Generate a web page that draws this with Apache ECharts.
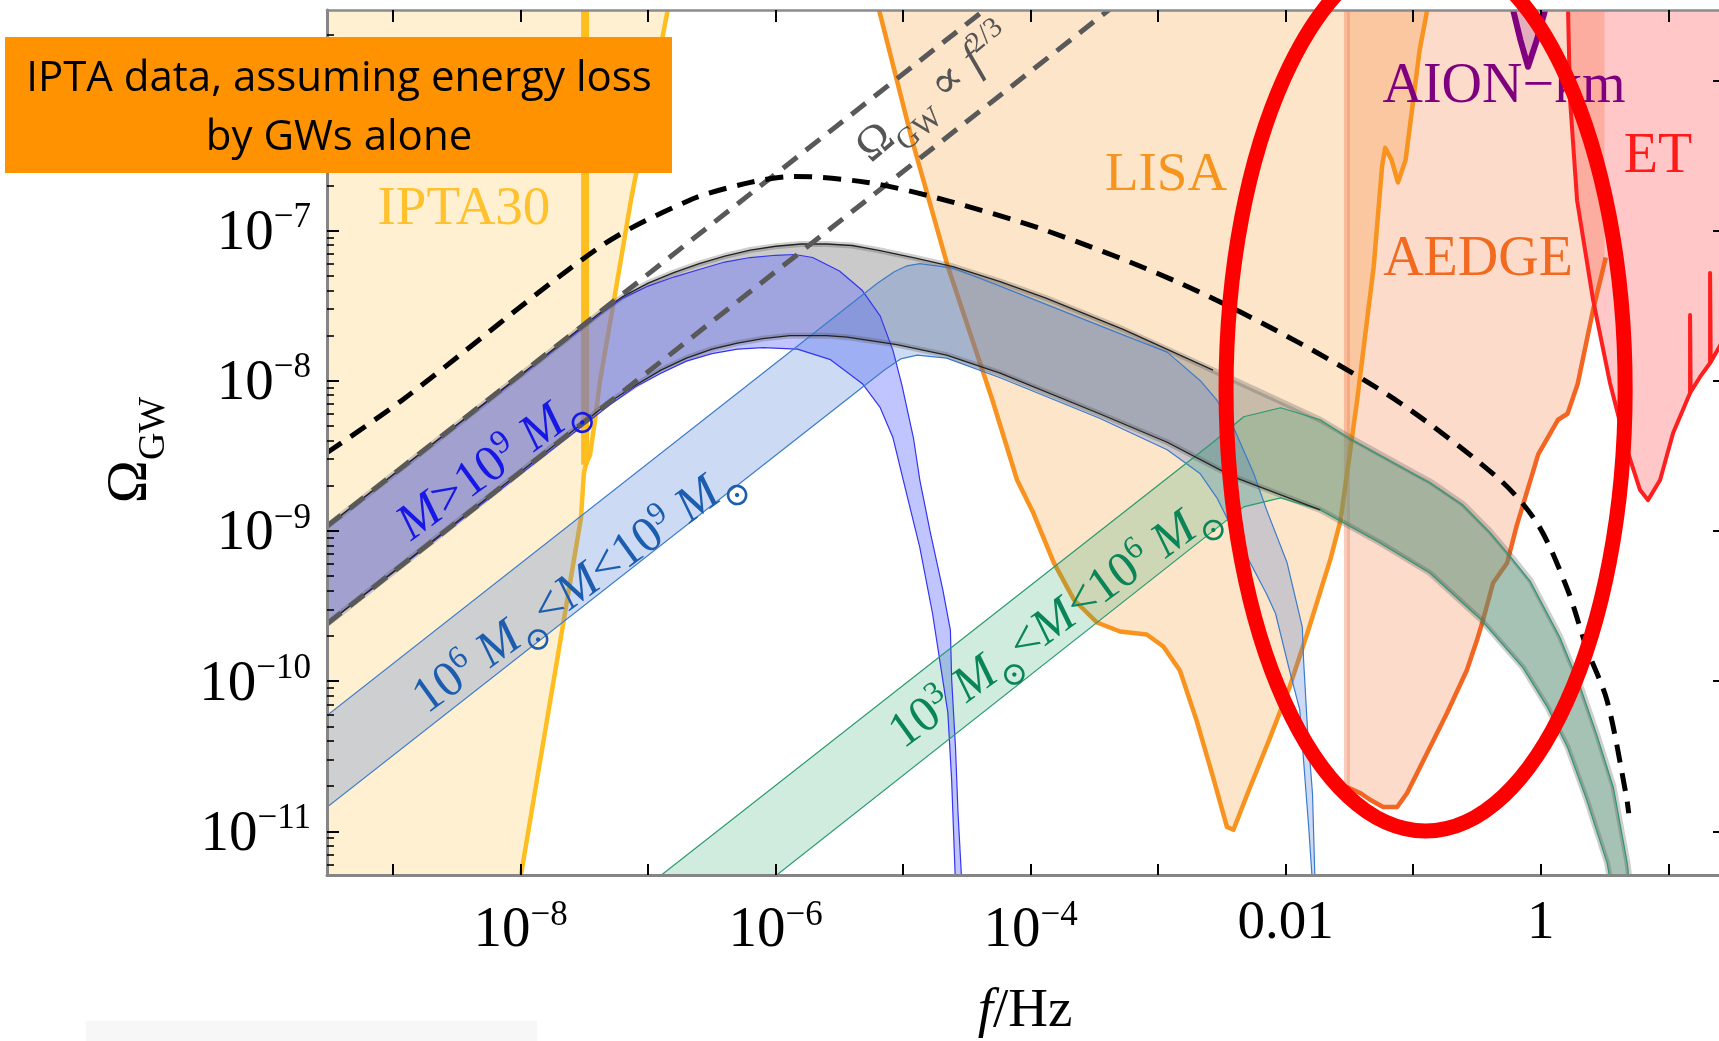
<!DOCTYPE html>
<html><head><meta charset="utf-8">
<script src="https://cdn.jsdelivr.net/npm/echarts@6/dist/echarts.min.js"></script>
<style>html,body{margin:0;padding:0;background:#fff;}#c{width:1719px;height:1041px;}</style>
</head><body><div id="c"></div>
<script>
// ---------- DATA (x = log10 f/Hz, y = log10 Omega_GW) ----------
const xRange = [-9.519, 1.398];
const yRange = [-11.291, -5.532];
const xTickValues = [-9,-8,-7,-6,-5,-4,-3,-2,-1,0,1];
const xLabelValues = [-8,-6,-4,-2,0];
const yTickValues = [-11,-10,-9,-8,-7,-6];
const yLabelValues = [-11,-10,-9,-8,-7,-6];

const iptaRight = [[-6.83,-5.45],[-6.845,-5.525],[-7.135,-6.797],[-7.268,-7.463],[-7.378,-8.002],[-7.417,-8.262],[-7.456,-8.495],[-7.488,-8.555]];
const iptaLeft = [[-7.488,-8.555],[-7.505,-8.62],[-7.527,-8.914],[-7.998,-11.291],[-8.01,-11.37]];
const iptaVertical = [[-7.495,-8.56],[-7.495,-5.4]];

const lisaCurve = [[-5.21,-5.45],[-5.19,-5.53],[-4.93,-6.40],[-4.65,-7.24],[-4.30,-8.13],[-4.107,-8.661],[-3.98,-8.88],[-3.82,-9.21],[-3.66,-9.46],[-3.48,-9.61],[-3.30,-9.67],[-3.09,-9.69],[-2.96,-9.77],[-2.83,-9.93],[-2.70,-10.26],[-2.57,-10.64],[-2.461,-10.971],[-2.41,-10.99],[-2.30,-10.75],[-2.12,-10.37],[-1.97,-10.04],[-1.83,-9.68],[-1.65,-9.19],[-1.57,-8.93],[-1.44,-8.13],[-1.31,-7.24],[-1.245,-6.577],[-1.22,-6.45],[-1.17,-6.53],[-1.12,-6.68],[-1.06,-6.53],[-1.01,-6.20],[-0.95,-5.80],[-0.89,-5.53],[-0.875,-5.45]];

const aedgeCurve = [[-1.52,-10.705],[-1.417,-10.745],[-1.338,-10.79],[-1.236,-10.838],[-1.126,-10.838],[-1.048,-10.745],[-0.946,-10.572],[-0.735,-10.212],[-0.579,-9.926],[-0.50,-9.727],[-0.453,-9.594],[-0.374,-9.347],[-0.264,-9.214],[-0.19,-8.97],[-0.08,-8.66],[-0.02,-8.49],[0.136,-8.26],[0.21,-8.22],[0.29,-8.02],[0.41,-7.53],[0.51,-7.18]];
const aedgeLeftEdge = [[-1.52,-10.705],[-1.52,-5.4]];

const etCurve = [[0.214,-5.45],[0.214,-5.532],[0.23,-6.13],[0.285,-6.80],[0.41,-7.46],[0.543,-8.015],[0.677,-8.461],[0.779,-8.728],[0.841,-8.795],[0.936,-8.661],[1.038,-8.348],[1.171,-8.082],[1.171,-7.563],[1.176,-8.075],[1.249,-7.975],[1.328,-7.882],[1.328,-7.283],[1.333,-7.875],[1.41,-7.76]];

const aionCurve = [[-0.225,-5.42],[-0.217,-5.53],[-0.16,-5.73],[-0.10,-5.91],[-0.03,-5.73],[0.035,-5.53],[0.045,-5.42]];

const grayUpper = [[-9.52,-8.97],[-7.38,-7.55],[-7.2,-7.44],[-7.0,-7.35],[-6.8,-7.28],[-6.6,-7.22],[-6.4,-7.17],[-6.2,-7.13],[-6.0,-7.105],[-5.8,-7.09],[-5.6,-7.09],[-5.4,-7.10],[-5.2,-7.13],[-4.92,-7.18],[-4.61,-7.24],[-4.24,-7.34],[-3.88,-7.45],[-3.27,-7.66],[-2.57,-7.93],[-1.73,-8.26],[-1.49,-8.38],[-1.0,-8.61],[-0.87,-8.67],[-0.61,-8.82],[-0.40,-9.00],[-0.26,-9.14],[-0.08,-9.33],[0.15,-9.70],[0.31,-10.03],[0.44,-10.35],[0.57,-10.70],[0.68,-11.21],[0.70,-11.35]];
const grayLower = [[-9.52,-9.62],[-7.3,-8.14],[-7.1,-8.03],[-6.9,-7.93],[-6.7,-7.85],[-6.5,-7.79],[-6.3,-7.75],[-6.1,-7.72],[-5.89,-7.70],[-5.6,-7.70],[-5.44,-7.71],[-5.05,-7.76],[-4.66,-7.83],[-4.24,-7.95],[-3.46,-8.22],[-2.93,-8.41],[-2.41,-8.64],[-1.73,-8.86],[-1.26,-9.08],[-0.87,-9.28],[-0.47,-9.59],[-0.14,-9.91],[0.05,-10.17],[0.21,-10.44],[0.36,-10.79],[0.52,-11.21],[0.55,-11.35]];

const purpleUpper = [[-9.52,-8.97],[-7.38,-7.56],[-7.2,-7.45],[-7.0,-7.37],[-6.8,-7.31],[-6.6,-7.26],[-6.4,-7.21],[-6.2,-7.18],[-6.0,-7.165],[-5.85,-7.16],[-5.71,-7.18],[-5.50,-7.27],[-5.32,-7.40],[-5.18,-7.57],[-5.08,-7.80],[-5.01,-8.03],[-4.92,-8.38],[-4.87,-8.66],[-4.79,-9.00],[-4.69,-9.39],[-4.63,-9.66],[-4.62,-9.99],[-4.59,-10.44],[-4.57,-10.88],[-4.54,-11.35]];
const purpleLower = [[-9.52,-9.62],[-7.3,-8.16],[-7.1,-8.04],[-6.9,-7.95],[-6.7,-7.87],[-6.5,-7.82],[-6.3,-7.79],[-6.1,-7.78],[-5.83,-7.79],[-5.57,-7.86],[-5.32,-8.02],[-5.18,-8.18],[-5.08,-8.38],[-5.0,-8.66],[-4.87,-9.11],[-4.77,-9.55],[-4.71,-9.88],[-4.65,-10.21],[-4.62,-10.66],[-4.59,-11.35]];

const blueUpper = [[-9.52,-10.23],[-5.2,-7.35],[-5.07,-7.275],[-4.97,-7.235],[-4.87,-7.22],[-4.61,-7.25],[-4.24,-7.37],[-3.35,-7.67],[-2.93,-7.81],[-2.67,-8.00],[-2.54,-8.13],[-2.41,-8.31],[-2.25,-8.62],[-2.15,-8.86],[-1.99,-9.21],[-1.87,-9.64],[-1.86,-9.86],[-1.83,-10.31],[-1.79,-10.75],[-1.77,-11.35]];
const blueLower = [[-9.52,-10.84],[-5.15,-7.93],[-5.02,-7.855],[-4.89,-7.83],[-4.66,-7.85],[-4.24,-7.98],[-3.46,-8.25],[-2.93,-8.46],[-2.67,-8.62],[-2.54,-8.78],[-2.41,-9.00],[-2.15,-9.42],[-2.08,-9.55],[-1.97,-9.93],[-1.89,-10.19],[-1.86,-10.53],[-1.82,-10.97],[-1.79,-11.35]];

const greenUpper = [[-7.0,-11.36],[-2.57,-8.41],[-2.33,-8.24],[-2.04,-8.18],[-1.73,-8.26],[-1.49,-8.39],[-1.0,-8.62],[-0.87,-8.68],[-0.61,-8.83],[-0.40,-9.01],[-0.26,-9.15],[-0.08,-9.34],[0.15,-9.71],[0.31,-10.04],[0.44,-10.36],[0.57,-10.71],[0.68,-11.22],[0.695,-11.35]];
const greenLower = [[-6.05,-11.33],[-2.33,-8.84],[-2.04,-8.78],[-1.73,-8.86],[-1.26,-9.08],[-0.87,-9.28],[-0.47,-9.59],[-0.14,-9.91],[0.05,-10.17],[0.21,-10.44],[0.36,-10.79],[0.52,-11.21],[0.55,-11.35]];

const dashUpper = [[-9.52,-8.97],[-4.24,-5.45]];
const dashLower = [[-9.52,-9.62],[-3.265,-5.45]];
const blackDashed = [[-9.52,-8.48],[-8.93,-8.13],[-7.38,-7.11],[-6.68,-6.80],[-6.25,-6.69],[-5.87,-6.64],[-5.28,-6.68],[-4.75,-6.78],[-3.88,-7.00],[-2.83,-7.35],[-1.89,-7.75],[-1.10,-8.15],[-0.32,-8.66],[-0.02,-8.96],[0.21,-9.39],[0.36,-9.78],[0.52,-10.13],[0.67,-10.76],[0.69,-10.88]];

// annotation ellipse: centre (x,y) and half-axes in decades
const ellipseData = [[-0.903,-8.058,1.565,2.94]];

const labelTexts = [
  '{n|IPTA30}', '{n|LISA}', '{n|AION−km}', '{n|AEDGE}', '{n|ET}',
  '{n|Ω}{d|GW}{n| ∝ }{i|f}{u|2/3}',
  '{i|M}{n|>10}{u|9}{n| }{i|M}{d|⊙}',
  '{n|10}{u|6}{n| }{i|M}{d|⊙}{n|<}{i|M}{n|<10}{u|9}{n| }{i|M}{d|⊙}',
  '{n|10}{u|3}{n| }{i|M}{d|⊙}{n|<}{i|M}{n|<10}{u|6}{n| }{i|M}{d|⊙}'
];
const labelAnchors = [[-8.445,-6.874],[-2.939,-6.650],[-0.288,-6.065],[-0.492,-7.216],[0.920,-6.531],[-4.74,-6.10],[-8.202,-8.575],[-7.535,-9.394],[-3.80,-9.627]];

// ---------- STYLES ----------
const serif = "'Liberation Serif','DejaVu Serif',serif";
const deg = Math.PI/180;
const labelStyles = [
  {size:55, color:'#FFC12E', rot:0},
  {size:55, color:'#F7941D', rot:0},
  {size:56, color:'#7F007F', rot:0},
  {size:56, color:'#F26A1F', rot:0},
  {size:56, color:'#FF1A1A', rot:0},
  {size:46, color:'#555555', rot:40*deg},
  {size:51, color:'#1717E6', rot:36*deg},
  {size:50, color:'#1D5DB0', rot:36*deg},
  {size:50, color:'#0A8558', rot:36*deg}
];
function richSet(s, color) {
  return {
    n: {fontSize:s, fontFamily:serif, fill:color, color:color, padding:[Math.round(s*0.12),0,Math.round(s*0.22),0]},
    i: {fontSize:s, fontFamily:serif, fill:color, color:color, fontStyle:'italic', padding:[Math.round(s*0.12),0,Math.round(s*0.22),0]},
    u: {fontSize:Math.round(s*0.64), fontFamily:serif, fill:color, color:color, verticalAlign:'top', padding:[Math.round(s*0.04),0,0,0]},
    d: {fontSize:Math.round(s*0.66), fontFamily:serif, fill:color, color:color, verticalAlign:'bottom'}
  };
}

function areaSeries(pts, fill) {
  return {type:'custom', coordinateSystem:'cartesian2d', clip:true, silent:true, data:pts, encode:{x:0,y:1},
    renderItem:(p, api) => p.dataIndex !== 0 ? null :
      {type:'polygon', shape:{points: pts.map(q => api.coord(q))}, style:{fill:fill}}};
}
function lineSeries(pts, st, smooth) {
  return {type:'custom', coordinateSystem:'cartesian2d', clip:true, silent:true, data:pts, encode:{x:0,y:1},
    renderItem:(p, api) => p.dataIndex !== 0 ? null :
      {type:'polyline', shape:{points: pts.map(q => api.coord(q)), smooth: smooth || 0}, style:Object.assign({fill:'none', lineJoin:'round'}, st)}};
}
const band = (u, l) => u.concat(l.slice().reverse());

const minorY = [];
for (let d = -12; d <= -6; d++) for (let k = 2; k <= 9; k++) {
  const v = d + Math.log10(k);
  if (v > yRange[0] && v < yRange[1]) minorY.push(v);
}

const tickRich = {
  b: {fontSize:57, fontFamily:serif, color:'#000', padding:[7,0,0,0]},
  s: {fontSize:35, fontFamily:serif, color:'#000', verticalAlign:'top', padding:[2,0,0,0]},
  p: {fontSize:55, fontFamily:serif, color:'#000'}
};
function fmtPow(v) {
  const r = Math.round(v);
  if (r === 0) return '{p|1}';
  if (r === -2) return '{p|0.01}';
  return '{b|10}{s|−' + Math.abs(r) + '}';
}
function fmtPowY(v) { return '{b|10}{s|−' + Math.abs(Math.round(v)) + '}'; }

const frameGray = '#858585';

const series = [
  areaSeries([[-9.6,-5.4]].concat(iptaRight, iptaLeft.slice(1), [[-9.6,-11.4]]), 'rgba(255,185,40,0.21)'),
  areaSeries(lisaCurve, 'rgba(247,148,29,0.24)'),
  areaSeries([[-1.52,-5.45]].concat(aedgeCurve, [[0.50,-7.18],[0.50,-5.45]]), 'rgba(242,101,34,0.235)'),
  areaSeries(etCurve.concat([[1.5,-7.7],[1.5,-5.4]]), 'rgba(255,30,30,0.25)'),
  areaSeries(aionCurve, 'rgba(128,0,128,0.2)'),
  lineSeries(aedgeLeftEdge, {stroke:'rgba(240,120,80,0.38)', lineWidth:6}),
  lineSeries(iptaRight.concat(iptaLeft.slice(1)), {stroke:'#FFBE1F', lineWidth:4.5}),
  lineSeries(iptaVertical, {stroke:'#FFBE1F', lineWidth:8}),
  lineSeries(lisaCurve, {stroke:'#F7931E', lineWidth:4.5}),
  lineSeries(aedgeCurve, {stroke:'#F26522', lineWidth:4.5}),
  lineSeries(etCurve, {stroke:'#FF1F1F', lineWidth:4}),
  lineSeries(aionCurve, {stroke:'#800080', lineWidth:6}),
  // bands
  areaSeries(band(grayUpper, grayLower), 'rgba(128,128,128,0.42)'),
  areaSeries(band(purpleUpper, purpleLower), 'rgba(100,110,255,0.40)'),
  areaSeries(band(blueUpper, blueLower), 'rgba(70,120,210,0.27)'),
  areaSeries(band(greenUpper, greenLower), 'rgba(40,170,110,0.22)'),
  // band edges
  lineSeries(grayUpper, {stroke:'rgba(80,80,80,0.28)', lineWidth:6}),
  lineSeries(grayLower, {stroke:'rgba(80,80,80,0.28)', lineWidth:6}),
  lineSeries(purpleUpper, {stroke:'#3535F0', lineWidth:1.2}),
  lineSeries(purpleLower, {stroke:'#3535F0', lineWidth:1.2}),
  lineSeries(blueUpper, {stroke:'#3C7BCB', lineWidth:1.2}),
  lineSeries(blueLower, {stroke:'#3C7BCB', lineWidth:1.2}),
  lineSeries(greenUpper, {stroke:'#2A9A70', lineWidth:1.2}),
  lineSeries(greenLower, {stroke:'#2A9A70', lineWidth:1.2}),
  lineSeries(grayUpper.slice(0, 19), {stroke:'#222', lineWidth:1.3}),
  lineSeries(grayLower.slice(0, 18), {stroke:'#222', lineWidth:1.3}),
  // dashed lines
  lineSeries(dashUpper, {stroke:'#595959', lineWidth:5, lineDash:[18,11], lineCap:'butt'}),
  lineSeries(dashLower, {stroke:'#595959', lineWidth:5, lineDash:[18,11], lineCap:'butt'}),
  lineSeries(blackDashed, {stroke:'#000', lineWidth:5, lineDash:[18,11], lineCap:'butt'}, 0.3),
  // labels
  {type:'custom', coordinateSystem:'cartesian2d', clip:false, silent:true, z:6,
    data: labelAnchors.map((a, i) => [a[0], a[1], i]), encode:{x:0,y:1},
    renderItem:(p, api) => {
      const i = p.dataIndex, st = labelStyles[i];
      const c = api.coord([api.value(0), api.value(1)]);
      return {type:'text', x:c[0], y:c[1], rotation:st.rot,
        style:{text:labelTexts[i], rich:richSet(st.size, st.color), fill:st.color, align:'center', verticalAlign:'middle'}};
    }},
  // annotation ellipse
  {type:'custom', coordinateSystem:'cartesian2d', clip:false, silent:true, z:10,
    data: ellipseData, encode:{x:0,y:1},
    renderItem:(p, api) => {
      const c = api.coord([api.value(0), api.value(1)]);
      const s = api.size([api.value(2), api.value(3)]);
      return {type:'ellipse', shape:{cx:c[0], cy:c[1], rx:s[0], ry:s[1]}, style:{fill:'none', stroke:'#FF0000', lineWidth:15}};
    }}
];

const chart = echarts.init(document.getElementById('c'), null, {renderer:'canvas'});
chart.setOption({
  animation:false,
  backgroundColor:'#ffffff',
  grid:{left:327, top:10, right:0, bottom:166, containLabel:false},
  xAxis:[
    {type:'value', position:'bottom', min:xRange[0], max:xRange[1], z:5,
      axisLine:{show:true, onZero:false, lineStyle:{color:frameGray, width:3}},
      axisTick:{show:true, inside:true, length:11, customValues:xTickValues, lineStyle:{color:'#000', width:2}},
      axisLabel:{show:true, customValues:xLabelValues, margin:21, formatter:fmtPow, rich:tickRich},
      splitLine:{show:false}},
    {type:'value', position:'top', min:xRange[0], max:xRange[1], z:5,
      axisLine:{show:true, onZero:false, lineStyle:{color:'#8c8c8c', width:2.5}},
      axisTick:{show:true, inside:true, length:12, customValues:xTickValues, lineStyle:{color:'#000', width:2}},
      axisLabel:{show:false}, splitLine:{show:false}}
  ],
  yAxis:[
    {type:'value', position:'left', min:yRange[0], max:yRange[1], z:5,
      axisLine:{show:true, onZero:false, lineStyle:{color:frameGray, width:3}},
      axisTick:{show:true, inside:true, length:12, customValues:yTickValues, lineStyle:{color:'#000', width:2}},
      axisLabel:{show:true, customValues:yLabelValues, margin:16, formatter:fmtPowY, rich:tickRich},
      splitLine:{show:false}},
    {type:'value', position:'left', offset:0, min:yRange[0], max:yRange[1], z:5,
      axisLine:{show:false, onZero:false},
      axisTick:{show:true, inside:true, length:7, customValues:minorY, lineStyle:{color:'#000', width:1.6}},
      axisLabel:{show:false}, splitLine:{show:false}},
    {type:'value', position:'right', offset:0, min:yRange[0], max:yRange[1], z:5,
      axisLine:{show:false, onZero:false},
      axisTick:{show:true, inside:true, length:6, customValues:yTickValues, lineStyle:{color:'#000', width:2}},
      axisLabel:{show:false}, splitLine:{show:false}}
  ],
  graphic:[
    {type:'rect', z:50, shape:{x:86, y:1021, width:451, height:20}, style:{fill:'#f7f7f7'}},
    {type:'text', z:50, x:134, y:450, rotation:Math.PI/2,
      style:{text:'{n|Ω}{d|GW}', rich:richSet(58, '#000'), fill:'#000', align:'center', verticalAlign:'middle'}},
    {type:'text', z:50, x:1025, y:1014,
      style:{text:'{i|f}{n|/Hz}', rich:richSet(55, '#000'), fill:'#000', align:'center', verticalAlign:'middle'}},
    {type:'rect', z:100, shape:{x:5, y:37, width:667, height:136}, style:{fill:'#FF9200'}},
    {type:'text', z:101, x:339, y:79,
      style:{text:'IPTA data, assuming energy loss', fontSize:42, fontFamily:"'Open Sans'", fill:'#000', align:'center', verticalAlign:'middle'}},
    {type:'text', z:101, x:339, y:138,
      style:{text:'by GWs alone', fontSize:42, fontFamily:"'Open Sans'", fill:'#000', align:'center', verticalAlign:'middle'}}
  ],
  series: series
});
</script></body></html>
